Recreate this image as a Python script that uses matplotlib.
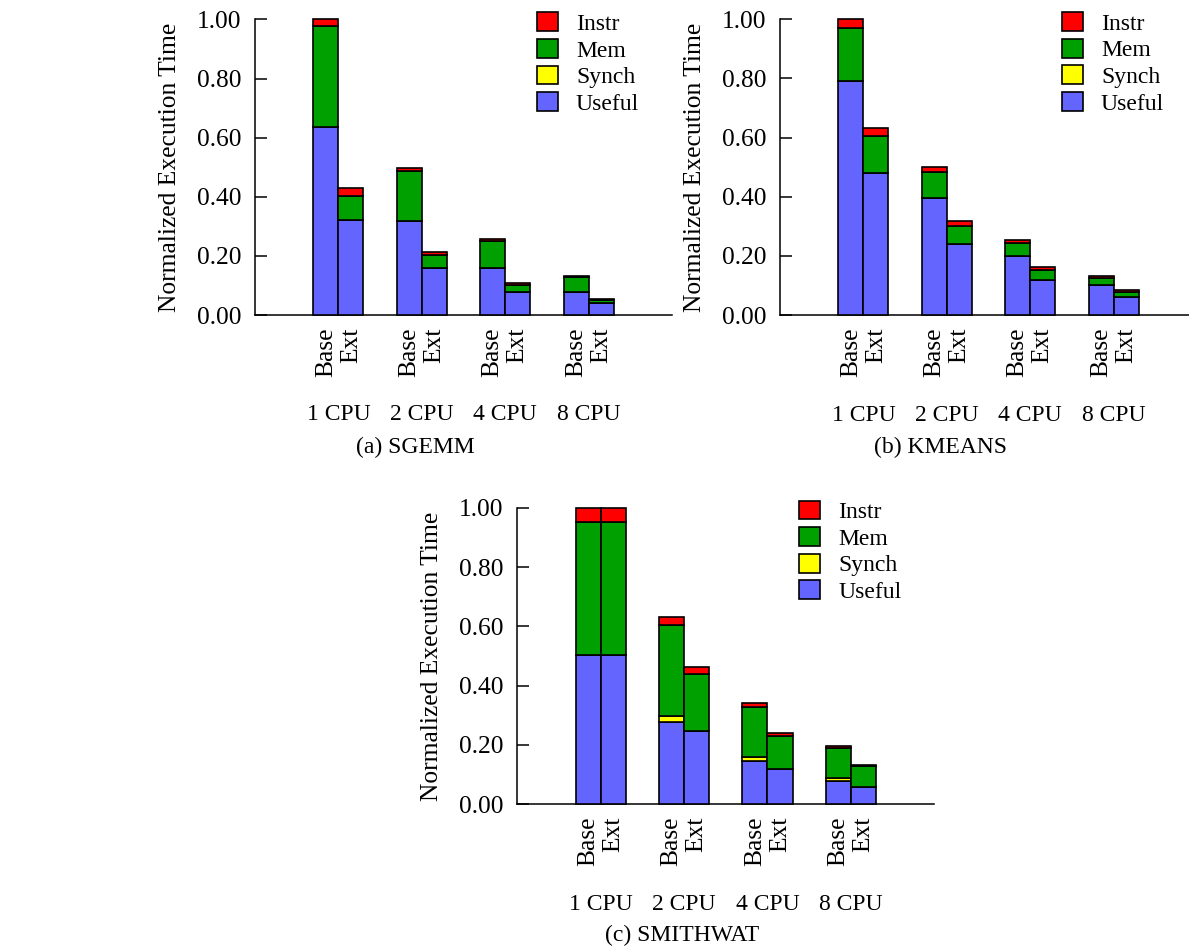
import matplotlib
matplotlib.use("Agg")
import matplotlib.pyplot as plt
import numpy as np

plt.rcParams['font.family'] = ['Liberation Serif', 'DejaVu Serif']

cpus = ["1 CPU", "2 CPU", "4 CPU", "8 CPU"]
variants = ["Base", "Ext"]
components = ["Useful", "Synch", "Mem", "Instr"]
colors = {"Useful": "#6464ff", "Synch": "#ffff00", "Mem": "#00a000", "Instr": "#ff0000"}

# values per benchmark: order of bars = 1CPU Base, 1CPU Ext, 2CPU Base, 2CPU Ext, ...
sgemm_useful = [0.637, 0.320, 0.318, 0.159, 0.158, 0.078, 0.078, 0.039]
sgemm_synch  = [0.000, 0.000, 0.000, 0.000, 0.000, 0.000, 0.000, 0.000]
sgemm_mem    = [0.340, 0.084, 0.170, 0.044, 0.093, 0.022, 0.049, 0.013]
sgemm_instr  = [0.023, 0.025, 0.011, 0.010, 0.006, 0.007, 0.004, 0.003]

kmeans_useful = [0.792, 0.479, 0.394, 0.239, 0.198, 0.119, 0.100, 0.060]
kmeans_synch  = [0.000, 0.000, 0.000, 0.000, 0.000, 0.000, 0.000, 0.000]
kmeans_mem    = [0.178, 0.125, 0.090, 0.063, 0.045, 0.033, 0.024, 0.018]
kmeans_instr  = [0.030, 0.030, 0.017, 0.017, 0.010, 0.009, 0.007, 0.006]

smith_useful = [0.504, 0.504, 0.279, 0.248, 0.145, 0.120, 0.079, 0.060]
smith_synch  = [0.000, 0.000, 0.020, 0.000, 0.016, 0.000, 0.011, 0.000]
smith_mem    = [0.447, 0.447, 0.304, 0.192, 0.166, 0.109, 0.099, 0.068]
smith_instr  = [0.049, 0.049, 0.030, 0.024, 0.016, 0.013, 0.009, 0.005]

panels = [
    ("(a) SGEMM", [sgemm_useful, sgemm_synch, sgemm_mem, sgemm_instr]),
    ("(b) KMEANS", [kmeans_useful, kmeans_synch, kmeans_mem, kmeans_instr]),
    ("(c) SMITHWAT", [smith_useful, smith_synch, smith_mem, smith_instr]),
]

W, H = 1189, 946
fig = plt.figure(figsize=(W / 100, H / 100), dpi=100)

def rect(x0, ytop, ybot, w=417):
    return [x0 / W, (H - ybot) / H, w / W, (ybot - ytop) / H]

axes_rects = [rect(255, 19.5, 315), rect(780, 19.3, 315), rect(517.3, 507.7, 804.3)]
caption_pos = [(415.5, 447), (941, 447), (681.7, 935)]

TICK_FS = 18.4
LAB_FS = 17
bw = 0.3
group_x = np.arange(1, len(cpus) + 1)

for (title, series), r, cp in zip(panels, axes_rects, caption_pos):
    ax = fig.add_axes(r)
    xs = []
    labels = []
    for g in group_x:
        xs += [g - bw / 2, g + bw / 2]
        labels += variants
    xs = np.array(xs)
    bottom = np.zeros(len(xs))
    handles = {}
    for name, vals in zip(components, series):
        vals = np.array(vals)
        b = ax.bar(xs, vals, width=bw, bottom=bottom, color=colors[name],
                   edgecolor="black", linewidth=1.2, label=name, clip_on=False, zorder=3)
        handles[name] = b
        bottom += vals
    ax.set_xlim(0, 5)
    ax.set_ylim(0, 1.0)
    ax.set_yticks(np.arange(0, 1.01, 0.2))
    ax.set_yticklabels([f"{v:.2f}" for v in np.arange(0, 1.01, 0.2)], fontsize=TICK_FS)
    ax.tick_params(axis='y', direction='in', length=8.6, width=1.1, pad=10)
    ax.set_xticks(xs)
    ax.set_xticklabels(labels, rotation=90, fontsize=TICK_FS, va='top')
    ax.tick_params(axis='x', length=0, pad=9.0)
    for s in ["top", "right"]:
        ax.spines[s].set_visible(False)
    for s in ["left", "bottom"]:
        ax.spines[s].set_linewidth(1.1)
    ax.set_ylabel("Normalized Execution Time", fontsize=TICK_FS, labelpad=10)
    ax.yaxis.set_label_coords(-85 / 417, 0.5)
    ax.yaxis.label.set_va('center')
    for g, c in zip(group_x, cpus):
        ax.text(g, -100 / 295.5, c, transform=ax.get_xaxis_transform(),
                ha='center', va='center', fontsize=LAB_FS)
    order = ["Instr", "Mem", "Synch", "Useful"]
    ax.legend([handles[n] for n in order], order, loc='upper left',
              bbox_to_anchor=(282 / 417, 1.024), frameon=False, fontsize=LAB_FS,
              handlelength=0.89, handleheight=0.85, handletextpad=0.76,
              labelspacing=0.17, borderpad=0, borderaxespad=0)
    fig.text(cp[0] / W, 1 - cp[1] / H, title, ha='center', va='center', fontsize=LAB_FS)

fig.savefig("out.png", dpi=100)
